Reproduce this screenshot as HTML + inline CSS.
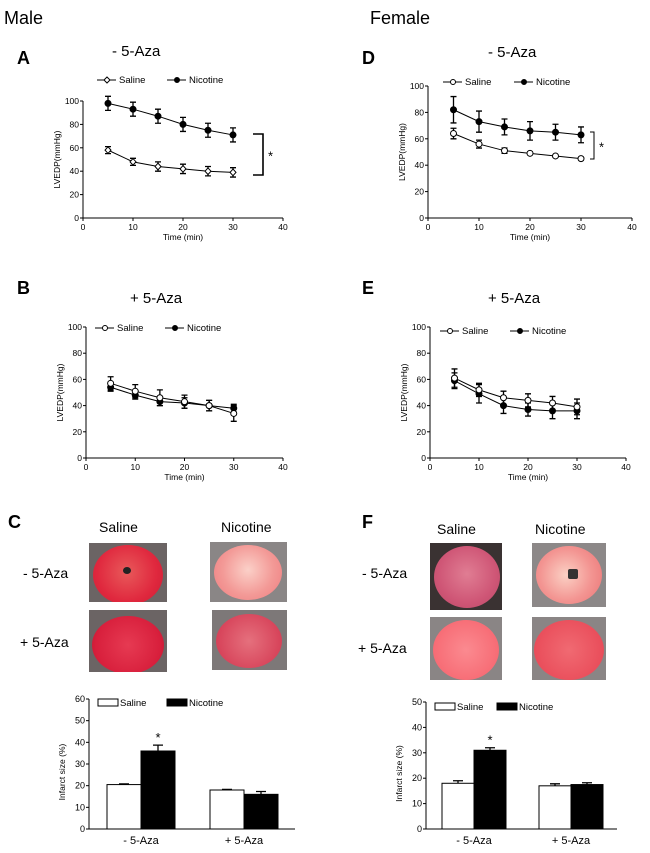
<!DOCTYPE html>
<html><head><meta charset="utf-8">
<style>
body{margin:0;background:#fff;width:650px;height:853px;overflow:hidden;font-family:"Liberation Sans",Arial,sans-serif;}
svg{position:absolute;left:0;top:0}
.photo{position:absolute;background:#6b6464;overflow:hidden}
.photo div{position:absolute;border-radius:50%}
</style></head><body>
<svg id="fig" width="650" height="853" font-family="Liberation Sans, Arial, sans-serif"></svg>

<div class="photo" style="left:89px;top:543px;width:78px;height:59px"><div style="left:4px;top:2px;width:70px;height:60px;background:radial-gradient(circle at 48% 45%,#e8595a 0,#e0283e 60%,#c91c33 100%)"></div><div style="left:34px;top:24px;width:8px;height:7px;background:#222"></div></div>
<div class="photo" style="left:89px;top:610px;width:78px;height:62px"><div style="left:3px;top:6px;width:72px;height:58px;background:radial-gradient(circle at 50% 50%,#e63a52 0,#d81f3c 70%,#b5152c 100%)"></div></div>
<div class="photo" style="left:210px;top:542px;width:77px;height:60px;background:#8a8686"><div style="left:4px;top:3px;width:68px;height:55px;background:radial-gradient(circle at 50% 45%,#fbd0c8 0,#f39a97 55%,#ee7b7e 100%)"></div></div>
<div class="photo" style="left:212px;top:610px;width:75px;height:60px;background:#7d7878"><div style="left:4px;top:4px;width:66px;height:54px;background:radial-gradient(circle at 50% 50%,#e5707d 0,#d8465c 70%,#c83850 100%)"></div></div>

<div class="photo" style="left:430px;top:543px;width:72px;height:67px;background:#3a3232"><div style="left:4px;top:3px;width:66px;height:62px;background:radial-gradient(circle at 50% 45%,#e07d93 0,#cf5676 60%,#b84766 100%)"></div></div>
<div class="photo" style="left:532px;top:543px;width:74px;height:64px;background:#8c8888"><div style="left:4px;top:3px;width:66px;height:58px;background:radial-gradient(circle at 45% 50%,#fbd0c4 0,#f39592 55%,#ea7374 100%)"></div><div style="left:36px;top:26px;width:10px;height:10px;background:#333;border-radius:2px"></div></div>
<div class="photo" style="left:430px;top:617px;width:72px;height:63px;background:#8a8585"><div style="left:3px;top:3px;width:66px;height:60px;background:radial-gradient(circle at 50% 50%,#fb8a90 0,#f76d76 70%,#ee5c68 100%)"></div></div>
<div class="photo" style="left:532px;top:617px;width:74px;height:63px;background:#8a8585"><div style="left:2px;top:3px;width:70px;height:60px;background:radial-gradient(circle at 50% 50%,#f06a72 0,#ea4f5c 70%,#df4050 100%)"></div></div>

<script>
const times = [5, 10, 15, 20, 25, 30];
const xTicks = [0, 10, 20, 30, 40];
const yTicks = [0, 20, 40, 60, 80, 100];
const salineA = [58, 48, 44, 42, 40, 39];
const salineAErr = [3, 3, 4, 4, 4, 4];
const nicotineA = [98, 93, 87, 80, 75, 71];
const nicotineAErr = [6, 6, 6, 6, 6, 6];
const salineB = [57, 51, 46, 43, 40, 34];
const salineBErr = [5, 5, 6, 5, 4, 6];
const nicotineB = [54, 48, 43, 42, 40, 38];
const nicotineBErr = [3, 3, 3, 4, 4, 3];
const salineD = [64, 56, 51, 49, 47, 45];
const salineDErr = [4, 3, 2, 1, 1, 1];
const nicotineD = [82, 73, 69, 66, 65, 63];
const nicotineDErr = [10, 8, 6, 7, 6, 6];
const salineE = [61, 52, 46, 44, 42, 39];
const salineEErr = [7, 5, 5, 5, 5, 6];
const nicotineE = [59, 49, 40, 37, 36, 36];
const nicotineEErr = [6, 7, 6, 5, 6, 6];
const barGroups = ["- 5-Aza", "+ 5-Aza"];
const infarctSalineC = [20.5, 18];
const infarctSalineCErr = [0.3, 0.3];
const infarctNicotineC = [36, 16];
const infarctNicotineCErr = [2.7, 1.3];
const barTicksC = [0, 10, 20, 30, 40, 50, 60];
const infarctSalineF = [18, 17];
const infarctSalineFErr = [1, 0.8];
const infarctNicotineF = [31, 17.5];
const infarctNicotineFErr = [1, 0.7];
const barTicksF = [0, 10, 20, 30, 40, 50];

const NS = "http://www.w3.org/2000/svg";
const svg = document.getElementById("fig");
function mk(tag, attrs, parent, text) {
  const e = document.createElementNS(NS, tag);
  for (const k in attrs) e.setAttribute(k, attrs[k]);
  if (text !== undefined) e.textContent = text;
  (parent || svg).appendChild(e);
  return e;
}
function txt(x, y, s, size, name, extra) {
  const t = mk("text", Object.assign({x: x, y: y, "font-size": size, fill: "#000"}, extra || {}), svg, s);
  
  
  return t;
}

txt(4, 24, "Male", 18, "male-heading");
txt(370, 24, "Female", 18, "female-heading");

function lineChart(cfg) {
  const g = mk("g", {});
  
  
  const sx = v => cfg.x0 + (v - 0) / 40 * (cfg.x1 - cfg.x0);
  const sy = v => cfg.y0 - v / 100 * (cfg.y0 - cfg.y1);
  mk("line", {x1: cfg.x0, y1: cfg.y0, x2: cfg.x0, y2: cfg.y1, stroke: "#000", "stroke-width": 1}, g);
  mk("line", {x1: cfg.x0, y1: cfg.y0, x2: cfg.x1, y2: cfg.y0, stroke: "#000", "stroke-width": 1}, g);
  yTicks.forEach(v => {
    mk("line", {x1: cfg.x0 - 3, y1: sy(v), x2: cfg.x0, y2: sy(v), stroke: "#000"}, g);
    const t = mk("text", {x: cfg.x0 - 4, y: sy(v) + 3, "font-size": 8.5, "text-anchor": "end"}, g, v);
    
    
  });
  xTicks.forEach(v => {
    mk("line", {x1: sx(v), y1: cfg.y0, x2: sx(v), y2: cfg.y0 + 3, stroke: "#000"}, g);
    const t = mk("text", {x: sx(v), y: cfg.y0 + 12, "font-size": 8.5, "text-anchor": "middle"}, g, v);
    
    
  });
  const xt = mk("text", {x: (cfg.x0 + cfg.x1) / 2, y: cfg.y0 + 22, "font-size": 8.5, "text-anchor": "middle"}, g, "Time (min)");
  
  
  const yt = mk("text", {x: 0, y: 0, "font-size": 8.5, "text-anchor": "middle", transform: "translate(" + (cfg.x0 - 23) + "," + ((cfg.y0 + cfg.y1) / 2) + ") rotate(-90)"}, g, "LVEDP(mmHg)");
  
  
  const series = [
    {vals: cfg.nic, err: cfg.nicErr, fill: "#000", name: "nicotine"},
    {vals: cfg.sal, err: cfg.salErr, fill: "#fff", name: "saline", diamond: cfg.diamond}
  ];
  series.forEach(s => {
    const pts = times.map((t, i) => sx(t) + "," + sy(s.vals[i])).join(" ");
    const pl = mk("polyline", {points: pts, fill: "none", stroke: "#000", "stroke-width": 1}, g);
    
    
    times.forEach((t, i) => {
      const x = sx(t), yh = sy(s.vals[i] + s.err[i]), yl = sy(s.vals[i] - s.err[i]);
      const eb = mk("path", {d: "M" + x + "," + yh + "V" + yl + "M" + (x - 3) + "," + yh + "H" + (x + 3) + "M" + (x - 3) + "," + yl + "H" + (x + 3), stroke: "#000", "stroke-width": 1.3, fill: "none"}, g);
      
      
      let m;
      if (s.diamond) m = mk("path", {d: "M" + x + "," + (sy(s.vals[i]) - 3.3) + "l3,3.3l-3,3.3l-3,-3.3z", fill: "#fff", stroke: "#000"}, g);
      else m = mk("circle", {cx: x, cy: sy(s.vals[i]), r: 3, fill: s.fill, stroke: "#000"}, g);
      
      
    });
  });
  const L = cfg.leg;
  [[L.sx, "Saline", "#fff", cfg.diamond], [L.nx, "Nicotine", "#000", false]].forEach(([lx, label, f, dia]) => {
    const lg = mk("g", {}, g);
    
    
    mk("line", {x1: lx, y1: L.y, x2: lx + 19, y2: L.y, stroke: "#000"}, lg);
    if (dia) mk("path", {d: "M" + (lx + 10) + "," + (L.y - 3) + "l3,3l-3,3l-3,-3z", fill: "#fff", stroke: "#000"}, lg);
    else mk("circle", {cx: lx + 10, cy: L.y, r: 2.5, fill: f, stroke: "#000"}, lg);
    mk("text", {x: lx + 22, y: L.y + 3, "font-size": 9.5}, lg, label);
  });
  if (cfg.br) {
    const b = cfg.br;
    const bp = mk("path", {d: "M" + b.x + "," + b.y1 + "H" + (b.x + b.w) + "V" + b.y2 + "H" + b.x, fill: "none", stroke: "#000", "stroke-width": b.sw}, g);
    
    
    const st = mk("text", {x: b.x + b.w + 5, y: (b.y1 + b.y2) / 2 + 6, "font-size": 13}, g, "*");
    
    
  }
}

function barChart(cfg) {
  const g = mk("g", {});
  
  
  const max = cfg.ticks[cfg.ticks.length - 1];
  const sy = v => cfg.y0 - v / max * (cfg.y0 - cfg.y1);
  mk("line", {x1: cfg.x0, y1: cfg.y0, x2: cfg.x0, y2: cfg.y1, stroke: "#000"}, g);
  mk("line", {x1: cfg.x0, y1: cfg.y0, x2: cfg.x1, y2: cfg.y0, stroke: "#000"}, g);
  cfg.ticks.forEach(v => {
    mk("line", {x1: cfg.x0 - 3, y1: sy(v), x2: cfg.x0, y2: sy(v), stroke: "#000"}, g);
    const t = mk("text", {x: cfg.x0 - 4, y: sy(v) + 3, "font-size": 9, "text-anchor": "end"}, g, v);
    
    
  });
  const yt = mk("text", {x: 0, y: 0, "font-size": 8.5, "text-anchor": "middle", transform: "translate(" + (cfg.x0 - 24) + "," + ((cfg.y0 + cfg.y1) / 2 + 8) + ") rotate(-90)"}, g, "Infarct size (%)");
  
  
  barGroups.forEach((grp, i) => {
    const gx = cfg.gx[i];
    [[cfg.sal, cfg.salErr, "#fff", 0, "saline"], [cfg.nic, cfg.nicErr, "#000", 1, "nicotine"]].forEach(([vals, err, f, k, nm]) => {
      const x = gx + k * cfg.bw;
      const r = mk("rect", {x: x, y: sy(vals[i]), width: cfg.bw, height: sy(0) - sy(vals[i]), fill: f, stroke: "#000", "stroke-width": 1}, g);
      
      
      const cx = x + cfg.bw / 2;
      const e = mk("path", {d: "M" + cx + "," + sy(vals[i]) + "V" + sy(vals[i] + err[i]) + "M" + (cx - 5) + "," + sy(vals[i] + err[i]) + "H" + (cx + 5), stroke: "#000", "stroke-width": 1.3, fill: "none"}, g);
      
      
    });
    const lbl = mk("text", {x: gx + cfg.bw, y: cfg.y0 + 15, "font-size": 11, "text-anchor": "middle"}, g, grp);
    
    
  });
  const st = mk("text", {x: cfg.gx[0] + cfg.bw * 1.5, y: sy(cfg.nic[0] + cfg.nicErr[0]) - 3, "font-size": 13, "text-anchor": "middle"}, g, "*");
  
  
  [[cfg.leg.sx, "Saline", "#fff"], [cfg.leg.nx, "Nicotine", "#000"]].forEach(([lx, label, f]) => {
    const lg = mk("g", {}, g);
    
    
    mk("rect", {x: lx, y: cfg.leg.y, width: 20, height: 7, fill: f, stroke: "#000"}, lg);
    mk("text", {x: lx + 22, y: cfg.leg.y + 7, "font-size": 9.5}, lg, label);
  });
}

[["A", 17, 64], ["B", 17, 294], ["C", 8, 528], ["D", 362, 64], ["E", 362, 294], ["F", 362, 528]].forEach(([s, x, y]) => {
  txt(x, y, s, 18, "panel-label-" + s.toLowerCase(), {"font-weight": "bold"});
});
txt(112, 56, "- 5-Aza", 15, "panel-a-title");
txt(130, 303, "+ 5-Aza", 15, "panel-b-title");
txt(488, 57, "- 5-Aza", 15, "panel-d-title");
txt(488, 303, "+ 5-Aza", 15, "panel-e-title");

lineChart({name: "chart-a", x0: 83, x1: 283, y0: 218, y1: 101, sal: salineA, salErr: salineAErr, nic: nicotineA, nicErr: nicotineAErr, diamond: true,
  leg: {y: 80, sx: 97, nx: 167}, br: {x: 253, w: 10, y1: 134, y2: 175, sw: 1.6}});
lineChart({name: "chart-b", x0: 86, x1: 283, y0: 458, y1: 327, sal: salineB, salErr: salineBErr, nic: nicotineB, nicErr: nicotineBErr, diamond: false,
  leg: {y: 328, sx: 95, nx: 165}});
lineChart({name: "chart-d", x0: 428, x1: 632, y0: 218, y1: 86, sal: salineD, salErr: salineDErr, nic: nicotineD, nicErr: nicotineDErr, diamond: false,
  leg: {y: 82, sx: 443, nx: 514}, br: {x: 590, w: 4, y1: 132, y2: 159, sw: 1}});
lineChart({name: "chart-e", x0: 430, x1: 626, y0: 458, y1: 327, sal: salineE, salErr: salineEErr, nic: nicotineE, nicErr: nicotineEErr, diamond: false,
  leg: {y: 331, sx: 440, nx: 510}});

txt(99, 532, "Saline", 14, "photo-header-saline-male");
txt(221, 532, "Nicotine", 14, "photo-header-nicotine-male");
txt(23, 578, "- 5-Aza", 14, "row-label-minus-aza-male");
txt(20, 647, "+ 5-Aza", 14, "row-label-plus-aza-male");
txt(437, 534, "Saline", 14, "photo-header-saline-female");
txt(535, 534, "Nicotine", 14, "photo-header-nicotine-female");
txt(362, 578, "- 5-Aza", 14, "row-label-minus-aza-female");
txt(358, 653, "+ 5-Aza", 14, "row-label-plus-aza-female");

barChart({name: "chart-c", x0: 89, x1: 295, y0: 829, y1: 699, ticks: barTicksC, gx: [107, 210], bw: 34,
  sal: infarctSalineC, salErr: infarctSalineCErr, nic: infarctNicotineC, nicErr: infarctNicotineCErr, leg: {y: 699, sx: 98, nx: 167}});
barChart({name: "chart-f", x0: 426, x1: 617, y0: 829, y1: 702, ticks: barTicksF, gx: [442, 539], bw: 32,
  sal: infarctSalineF, salErr: infarctSalineFErr, nic: infarctNicotineF, nicErr: infarctNicotineFErr, leg: {y: 703, sx: 435, nx: 497}});
</script>
</body></html>
